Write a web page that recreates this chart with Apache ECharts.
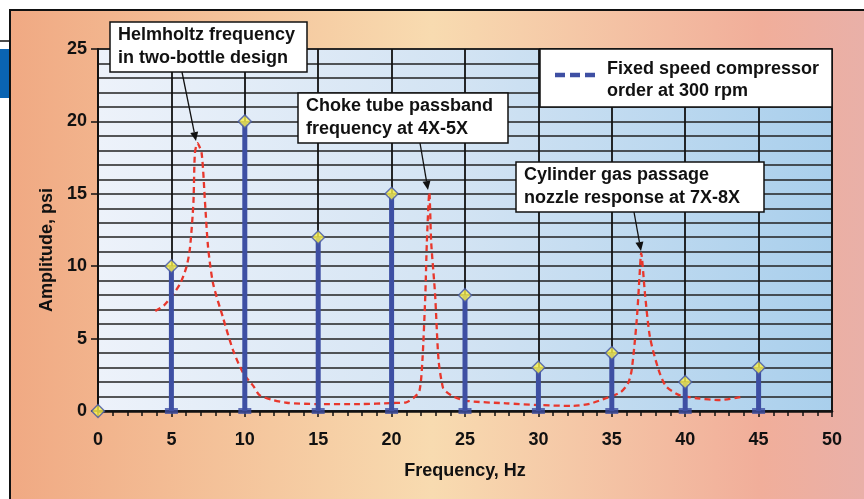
<!DOCTYPE html>
<html>
<head>
<meta charset="utf-8">
<script src="https://cdn.jsdelivr.net/npm/echarts@6/dist/echarts.min.js"></script>
<style>
  html, body { margin: 0; padding: 0; background: #fff; }
  #chart { width: 864px; height: 499px; }
</style>
</head>
<body>
<div id="chart"></div>
<script>
// compressor order stems (Hz -> psi)
const freqs = [0, 5, 10, 15, 20, 25, 30, 35, 40, 45]
const amps = [0, 10, 20, 12, 15, 8, 3, 4, 2, 3]

// acoustic response curve
const curveHz = [3.9, 4.5, 5, 5.6, 6.04, 6.27, 6.5, 6.6, 6.77, 7.06, 7.29, 7.5, 7.84, 8.5, 9.2, 9.9, 10.6, 11.0, 11.9, 12.85,
  14.9, 17.8, 20.1, 21.0, 21.5, 21.9, 22.1, 22.3, 22.4, 22.57, 22.7, 22.96, 23.2, 23.5, 23.75, 24.2, 25.1, 27.8, 30.1, 32.4,
  33.5, 34.65, 35.6, 36.1, 36.35, 36.7, 36.9, 37.0, 37.26, 37.6, 38.2, 38.7, 39.6, 40.8, 42.4, 43.9]
const curveAmp = [6.9, 7.3, 7.9, 8.8, 10.0, 11.3, 14.4, 17.8, 18.5, 17.8, 14.4, 11.3, 8.8, 6.5, 4.2, 2.6, 1.7, 1.1, 0.76, 0.57,
  0.48, 0.48, 0.55, 0.6, 0.9, 1.4, 3.5, 8.1, 11.6, 15.1, 11.6, 8.1, 3.5, 1.6, 1.3, 1.0, 0.7, 0.53, 0.41, 0.35,
  0.5, 0.9, 1.3, 1.9, 2.8, 6.3, 9.5, 10.9, 8.1, 5.1, 2.8, 1.7, 1.1, 0.88, 0.76, 0.99]

const FONT = '"Liberation Sans", Arial, sans-serif'
const stemColor = '#3e4fa3'

const stems = freqs.map((f, i) => [f, amps[i]]).filter(d => d[1] > 0)
const bases = stems.map(d => [d[0], 0])
const tops = freqs.map((f, i) => [f, amps[i]])
const curve = curveHz.map((f, i) => [f, curveAmp[i]])

// annotation box with two lines of text
const noteBox = (x, y, w, h, lines, tx) => ({
  type: 'group',
  children: [
    {type: 'rect', shape: {x, y, width: w, height: h}, style: {fill: '#fff', stroke: '#111', lineWidth: 1.5}, z: 20},
    ...lines.map((t, i) => ({
      type: 'text', z: 21,
      style: {x: tx, y: y + 13 + i * 23, text: t, fill: '#111', fontSize: 18, fontWeight: 'bold', fontFamily: FONT, verticalAlign: 'middle'}
    }))
  ]
})

const arrow = (x1, y1, x2, y2) => {
  const a = Math.atan2(y2 - y1, x2 - x1)
  const len = 9, half = 4
  const bx = x2 - len * Math.cos(a), by = y2 - len * Math.sin(a)
  return {
    type: 'group',
    children: [
      {type: 'line', z: 20, shape: {x1, y1, x2: bx, y2: by}, style: {stroke: '#111', lineWidth: 1.3}},
      {type: 'polygon', z: 20, shape: {points: [[x2, y2],
        [bx + half * Math.sin(a), by - half * Math.cos(a)],
        [bx - half * Math.sin(a), by + half * Math.cos(a)]]}, style: {fill: '#111'}}
    ]
  }
}

const chart = echarts.init(document.getElementById('chart'))
const option = {
  animation: false,
  backgroundColor: {
    type: 'linear', x: 0, y: 0, x2: 1, y2: 0,
    colorStops: [
      {offset: 0, color: '#f0a882'},
      {offset: 0.5, color: '#f8dbb0'},
      {offset: 0.88, color: '#f1ae9a'},
      {offset: 1, color: '#e9b0a8'}
    ]
  },
  grid: {
    left: 98, right: 32, top: 49, bottom: 88,
    show: true,
    borderColor: '#111',
    borderWidth: 1.5,
    backgroundColor: {
      type: 'linear', x: 0, y: 0, x2: 1, y2: 0,
      colorStops: [
        {offset: 0, color: '#edf2fa'},
        {offset: 0.5, color: '#d2e3f3'},
        {offset: 1, color: '#a9cfec'}
      ]
    }
  },
  xAxis: {
    type: 'value', min: 0, max: 50, interval: 5,
    axisLine: {show: true, lineStyle: {color: '#111', width: 2.5}},
    axisTick: {show: true, length: 6, lineStyle: {color: '#111', width: 1.5}},
    minorTick: {show: true, splitNumber: 5, length: 5, lineStyle: {color: '#111', width: 1.5}},
    splitLine: {show: true, lineStyle: {color: '#111', width: 1.8}},
    axisLabel: {margin: 20, color: '#111', fontSize: 18, fontWeight: 'bold', fontFamily: FONT},
    name: 'Frequency, Hz',
    nameLocation: 'middle',
    nameGap: 51,
    nameTextStyle: {color: '#111', fontSize: 18, fontWeight: 'bold', fontFamily: FONT}
  },
  yAxis: {
    type: 'value', min: 0, max: 25, interval: 5,
    axisLine: {show: true, lineStyle: {color: '#111', width: 2}},
    axisTick: {show: true, length: 7, lineStyle: {color: '#111', width: 1.5}},
    splitLine: {show: true, lineStyle: {color: '#222', width: 1.5}},
    minorTick: {show: false, splitNumber: 5},
    minorSplitLine: {show: true, lineStyle: {color: '#222', width: 1.5}},
    axisLabel: {margin: 11, color: '#111', fontSize: 18, fontWeight: 'bold', fontFamily: FONT}
  },
  series: [
    {
      name: 'Fixed speed compressor order at 300 rpm',
      type: 'bar',
      data: stems,
      barWidth: 5,
      itemStyle: {color: stemColor},
      z: 3
    },
    {
      // foot of each stem
      type: 'scatter',
      data: bases,
      symbol: 'rect',
      symbolSize: [13, 6],
      itemStyle: {color: stemColor},
      clip: false,
      z: 10
    },
    {
      type: 'line',
      data: curve,
      smooth: 0.25,
      symbol: 'none',
      lineStyle: {color: '#e8372c', width: 2.3, type: [6, 4]},
      z: 2
    },
    {
      type: 'scatter',
      data: tops,
      symbol: 'diamond',
      symbolSize: 13,
      itemStyle: {color: '#faf04a', borderColor: '#4456a8', borderWidth: 1.5},
      clip: false,
      z: 11
    }
  ],
  graphic: [
    // page frame remains in the corner
    {type: 'rect', shape: {x: 0, y: 0, width: 864, height: 10}, style: {fill: '#fff'}, z: 30},
    {type: 'rect', shape: {x: 0, y: 0, width: 10, height: 499}, style: {fill: '#fff'}, z: 30},
    {type: 'polyline', shape: {points: [[10, 499], [10, 10], [864, 10]]}, style: {stroke: '#111', lineWidth: 2, fill: null}, z: 31},
    {type: 'line', shape: {x1: 0, y1: 41, x2: 10, y2: 41}, style: {stroke: '#111', lineWidth: 1.5}, z: 31},
    {type: 'rect', shape: {x: 0, y: 49, width: 9, height: 49}, style: {fill: '#0a64b3'}, z: 31},
    // y axis title
    {
      type: 'text', z: 20, x: 47, y: 250, rotation: Math.PI / 2,
      style: {text: 'Amplitude, psi', fill: '#111', fontSize: 18, fontWeight: 'bold', fontFamily: FONT, align: 'center', verticalAlign: 'middle'}
    },
    noteBox(110, 22, 197, 50, ['Helmholtz frequency', 'in two-bottle design'], 118),
    arrow(182, 72, 196, 141),
    noteBox(298, 93, 210, 50, ['Choke tube passband', 'frequency at 4X-5X'], 306),
    arrow(420, 143, 428, 190),
    noteBox(516, 162, 248, 50, ['Cylinder gas passage', 'nozzle response at 7X-8X'], 524),
    arrow(634, 212, 641, 251),
    // legend
    {
      type: 'group',
      children: [
        {type: 'rect', z: 20, shape: {x: 540, y: 49, width: 292, height: 58}, style: {fill: '#fff', stroke: '#111', lineWidth: 1.5}},
        {type: 'line', z: 21, shape: {x1: 555, y1: 75, x2: 597, y2: 75}, style: {stroke: stemColor, lineWidth: 4.5, lineDash: [10, 5]}},
        {type: 'text', z: 21, style: {x: 607, y: 69, text: 'Fixed speed compressor', fill: '#111', fontSize: 18, fontWeight: 'bold', fontFamily: FONT, verticalAlign: 'middle'}},
        {type: 'text', z: 21, style: {x: 607, y: 91, text: 'order at 300 rpm', fill: '#111', fontSize: 18, fontWeight: 'bold', fontFamily: FONT, verticalAlign: 'middle'}}
      ]
    }
  ]
}
chart.setOption(option)
</script>
</body>
</html>
